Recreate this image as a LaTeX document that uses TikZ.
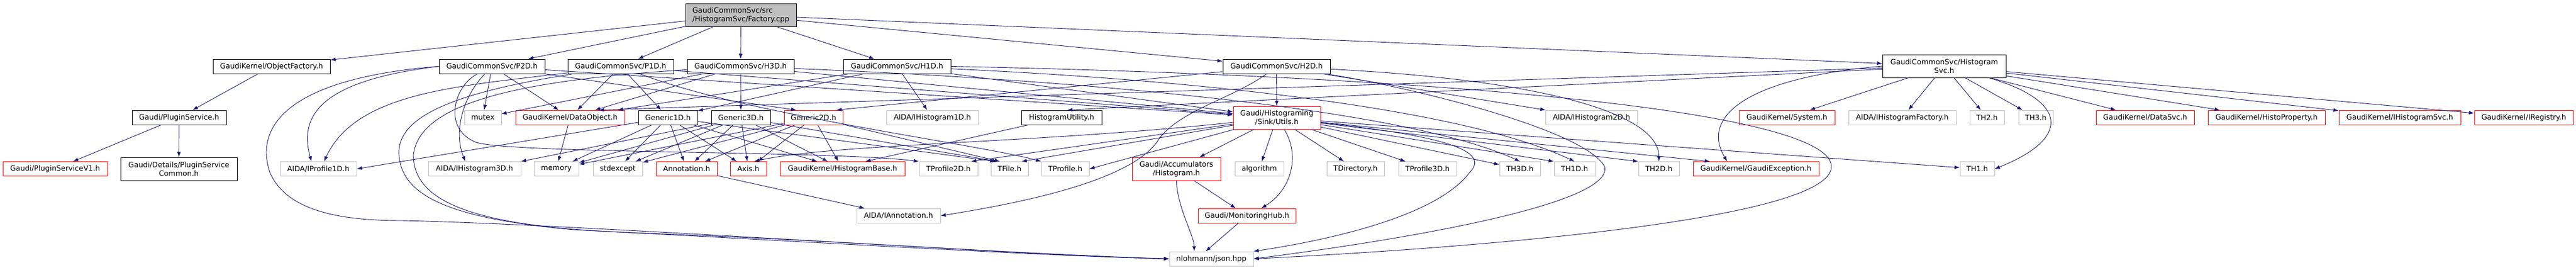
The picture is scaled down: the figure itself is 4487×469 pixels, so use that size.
\documentclass[tikz,border=0pt]{standalone}
\usepackage{fontspec}
\setmainfont{DejaVu Sans}
\usetikzlibrary{arrows.meta}
\definecolor{edgeblue}{HTML}{191970}
\definecolor{grayline}{HTML}{BFBFBF}
\newcommand{\dotfont}{\fontsize{12.7}{15}\selectfont}
\tikzset{
  inc/.style={draw=black, line width=1pt, inner sep=0pt, minimum height=25pt, font=\dotfont},
  incred/.style={inc, draw=red},
  incsys/.style={inc, draw=grayline},
  dep/.style={edgeblue, line width=0.9pt, -{Latex[length=9pt,width=6.5pt]}}
}
\begin{document}
\begin{tikzpicture}[x=1pt,y=-1pt]
\useasboundingbox (0,0) rectangle (4487,469);

% top file and its direct includes
\node[inc, fill=grayline, minimum width=193pt, minimum height=40pt, align=left] (main) at (1290.5,26) {GaudiCommonSvc/src\\/HistogramSvc/Factory.cpp};
\node[inc, minimum width=204pt] (objfac) at (473,115.5) {GaudiKernel/ObjectFactory.h};
\node[inc, minimum width=184pt] (p2d) at (857,115.5) {GaudiCommonSvc/P2D.h};
\node[inc, minimum width=184pt] (p1d) at (1081,115.5) {GaudiCommonSvc/P1D.h};
\node[inc, minimum width=186pt] (h3d) at (1290,115.5) {GaudiCommonSvc/H3D.h};
\node[inc, minimum width=187pt] (h1d) at (1562.5,115.5) {GaudiCommonSvc/H1D.h};
\node[inc, minimum width=187pt] (h2d) at (2223.5,115.5) {GaudiCommonSvc/H2D.h};
\node[inc, minimum width=215pt, minimum height=40pt, align=center] (histsvc) at (3386.5,115) {GaudiCommonSvc/Histogram\\Svc.h};

% second row
\node[inc, minimum width=164pt] (plugsvc) at (312,204.5) {Gaudi/PluginService.h};
\node[incsys, minimum width=64pt] (mutex) at (841,204.5) {mutex};
\node[incred, minimum width=190pt] (dataobj) at (993,204.5) {GaudiKernel/DataObject.h};
\node[inc, minimum width=103pt] (gen1d) at (1163.5,204.5) {Generic1D.h};
\node[inc, minimum width=103pt] (gen3d) at (1290.5,204.5) {Generic3D.h};
\node[incred, minimum width=102pt] (gen2d) at (1417,204.5) {Generic2D.h};
\node[incsys, minimum width=160pt] (ihist1d) at (1624,204.5) {AIDA/IHistogram1D.h};
\node[inc, minimum width=140pt] (histutil) at (1849,204.5) {HistogramUtility.h};
\node[incred, minimum width=152pt, minimum height=40pt, align=center] (utils) at (2224,205) {Gaudi/Histograming\\/Sink/Utils.h};
\node[incsys, minimum width=160pt] (ihist2d) at (2772,204.5) {AIDA/IHistogram2D.h};
\node[incred, minimum width=167pt] (system) at (3112.5,204.5) {GaudiKernel/System.h};
\node[incsys, minimum width=187pt] (ihistfac) at (3313.5,204.5) {AIDA/IHistogramFactory.h};
\node[incsys, minimum width=60pt] (th2) at (3461,204.5) {TH2.h};
\node[incsys, minimum width=60pt] (th3) at (3546,204.5) {TH3.h};
\node[incred, minimum width=171pt] (datasvc) at (3736.5,204.5) {GaudiKernel/DataSvc.h};
\node[incred, minimum width=204pt] (histoprop) at (3948,204.5) {GaudiKernel/HistoProperty.h};
\node[incred, minimum width=212pt] (ihistsvc) at (4180,204.5) {GaudiKernel/IHistogramSvc.h};
\node[incred, minimum width=172pt] (iregistry) at (4396,204.5) {GaudiKernel/IRegistry.h};

% third row
\node[incred, minimum width=182pt] (plugv1) at (96,294) {Gaudi/PluginServiceV1.h};
\node[inc, minimum width=203pt, minimum height=40pt, align=center] (plugcommon) at (311.5,294) {Gaudi/Details/PluginService\\Common.h};
\node[incsys, minimum width=133pt] (iprof1d) at (554.5,294) {AIDA/IProfile1D.h};
\node[incsys, minimum width=161pt] (ihist3d) at (826.5,294) {AIDA/IHistogram3D.h};
\node[incsys, minimum width=78pt] (memory) at (969,294) {memory};
\node[incsys, minimum width=86pt] (stdexcept) at (1076,294) {stdexcept};
\node[incred, minimum width=106pt] (annotation) at (1196,294) {Annotation.h};
\node[incred, minimum width=63pt] (axis) at (1303.5,294) {Axis.h};
\node[incred, minimum width=217pt] (histbase) at (1467.5,294) {GaudiKernel/HistogramBase.h};
\node[incsys, minimum width=102pt] (tprof2d) at (1652,294) {TProfile2D.h};
\node[incsys, minimum width=65pt] (tfile) at (1758.5,294) {TFile.h};
\node[incsys, minimum width=83pt] (tprof) at (1855.5,294) {TProfile.h};
\node[incred, minimum width=154pt, minimum height=40pt, align=center] (accum) at (2049,294) {Gaudi/Accumulators\\/Histogram.h};
\node[incsys, minimum width=85pt] (algorithm) at (2193.5,294) {algorithm};
\node[incsys, minimum width=100pt] (tdir) at (2361,294) {TDirectory.h};
\node[incsys, minimum width=101pt] (tprof3d) at (2486.5,294) {TProfile3D.h};
\node[incsys, minimum width=71pt] (th3d) at (2647.5,294) {TH3D.h};
\node[incsys, minimum width=71pt] (th1d) at (2742.5,294) {TH1D.h};
\node[incsys, minimum width=71pt] (th2d) at (2889.5,294) {TH2D.h};
\node[incred, minimum width=219pt] (gexc) at (3058.5,294) {GaudiKernel/GaudiException.h};
\node[incsys, minimum width=60pt] (th1) at (3444,294) {TH1.h};

% lower rows
\node[incsys, minimum width=146pt] (iannot) at (1565,375.5) {AIDA/IAnnotation.h};
\node[incred, minimum width=170pt] (monhub) at (2172,375.5) {Gaudi/MonitoringHub.h};
\node[incsys, minimum width=146pt] (json) at (2110,450.5) {nlohmann/json.hpp};

% Factory.cpp
\draw[dep] (main) -- (objfac);
\draw[dep] (main) -- (p2d);
\draw[dep] (main) -- (p1d);
\draw[dep] (main) -- (h3d);
\draw[dep] (main) -- (h1d);
\draw[dep] (main) -- (h2d);
\draw[dep] (main) -- (histsvc);

% plugin service
\draw[dep] (objfac) -- (plugsvc);
\draw[dep] (plugsvc) -- (plugv1);
\draw[dep] (plugsvc) -- (plugcommon);

% P2D.h
\draw[dep] (p2d) -- (mutex);
\draw[dep] (p2d) -- (dataobj);
\draw[dep] (p2d) -- ([xshift=-30pt]gen2d.north);
\draw[dep] (p2d) -- (utils);
\draw[dep] (p2d.west) .. controls (560,140) and (520,200) .. ([xshift=-12pt]iprof1d.north);
\draw[dep] (p2d) .. controls (805,170) and (790,230) .. ([xshift=-16pt]ihist3d.north);
\draw[dep] (p2d) .. controls (790,150) and (770,225) .. (830,248) .. controls (900,268) and (1450,262) .. (tprof2d.north west);
\draw[dep] (p2d.west) .. controls (520,135) and (440,210) .. (470,300) .. controls (500,370) and (600,384) .. (700,384) .. controls (1000,390) and (1700,440) .. (json.west);

% P1D.h
\draw[dep] (p1d) -- (dataobj);
\draw[dep] (p1d) -- (gen1d);
\draw[dep] (p1d) -- (utils);
\draw[dep] (p1d) .. controls (1300,200) and (1700,250) .. (tprof.north west);
\draw[dep] (p1d) .. controls (800,150) and (620,160) .. ([xshift=10pt]iprof1d.north);
\draw[dep] (p1d) .. controls (800,160) and (690,200) .. (695,270) .. controls (700,340) and (780,380) .. (1000,400) .. controls (1400,420) and (1800,445) .. (json.west);

% H3D.h
\draw[dep] (h3d) -- (gen3d);
\draw[dep] (h3d) -- (mutex);
\draw[dep] (h3d) -- (dataobj);
\draw[dep] (h3d) -- (utils);
\draw[dep] (h3d) .. controls (1900,140) and (2450,190) .. (th3d.north);
\draw[dep] (h3d) .. controls (900,140) and (730,180) .. (720,270) .. controls (720,360) and (850,395) .. (1100,405) .. controls (1500,420) and (1800,445) .. (json.west);

% H1D.h
\draw[dep] (h1d) -- (gen1d);
\draw[dep] (h1d) -- (ihist1d);
\draw[dep] (h1d) -- (dataobj);
\draw[dep] (h1d) -- (utils);
\draw[dep] (h1d) .. controls (2100,140) and (2550,190) .. (th1d.north);
\draw[dep] (h1d.east) .. controls (2600,135) and (3190,200) .. (3190,290) .. controls (3190,380) and (2600,430) .. (json.east);

% H2D.h
\draw[dep] (h2d) -- (utils);
\draw[dep] (h2d) -- ([xshift=40pt]gen2d.north);
\draw[dep] (h2d) -- (ihist2d);
\draw[dep] (h2d) .. controls (2700,140) and (2890,200) .. (th2d.north);
\draw[dep] (h2d) .. controls (2450,150) and (2760,225) .. (2795,290) .. controls (2810,350) and (2500,410) .. (json.east);
\draw[dep] (h2d) .. controls (2150,170) and (2060,190) .. (2020,240) .. controls (1980,310) and (1800,350) .. (iannot.east);

% HistogramSvc.h
\draw[dep] (histsvc) -- ([xshift=50pt]dataobj.north);
\draw[dep] (histsvc) -- ([xshift=10pt]histutil.north);
\draw[dep] (histsvc) -- (system);
\draw[dep] (histsvc) -- (ihistfac);
\draw[dep] (histsvc) -- (th2);
\draw[dep] (histsvc) -- (th3);
\draw[dep] (histsvc) -- (datasvc);
\draw[dep] (histsvc) -- (histoprop);
\draw[dep] (histsvc) -- (ihistsvc);
\draw[dep] (histsvc) -- (iregistry);
\draw[dep] ([xshift=-30pt]histsvc.south east) .. controls (3600,175) and (3610,240) .. (th1.east);
\draw[dep] (histsvc.west) .. controls (3050,135) and (2960,200) .. ([xshift=-50pt]gexc.north);

% Generic*.h
\draw[dep] (gen1d) -- (iprof1d.east);
\draw[dep] (gen1d) -- (memory);
\draw[dep] (gen1d) -- (stdexcept);
\draw[dep] (gen1d) -- (annotation);
\draw[dep] (gen1d) -- (axis);
\draw[dep] (gen1d) -- (histbase);
\draw[dep] (gen1d) -- ([xshift=8pt]tfile.north west);
\draw[dep] (gen3d) -- (ihist3d.north east);
\draw[dep] (gen3d) -- (memory);
\draw[dep] (gen3d) -- (stdexcept);
\draw[dep] (gen3d) -- (annotation);
\draw[dep] (gen3d) -- (axis);
\draw[dep] (gen3d) -- (histbase);
\draw[dep] (gen3d) -- ([xshift=12pt]tfile.north west);
\draw[dep] (gen2d) -- (memory);
\draw[dep] (gen2d) -- (stdexcept);
\draw[dep] (gen2d) -- (annotation);
\draw[dep] (gen2d) -- (axis);
\draw[dep] (gen2d) -- (histbase);
\draw[dep] (gen2d) -- ([xshift=16pt]tfile.north west);
\draw[dep] (dataobj) -- (memory);
\draw[dep] (histutil) -- ([xshift=40pt]histbase.north);
\draw[dep] (annotation) -- (iannot);

% Sink/Utils.h
\draw[dep] (utils) -- (accum);
\draw[dep] (utils) -- (algorithm);
\draw[dep] (utils) -- (tdir);
\draw[dep] (utils) -- (tprof3d);
\draw[dep] (utils) -- (th3d);
\draw[dep] (utils) -- (th1d.north west);
\draw[dep] (utils) -- (th2d.north west);
\draw[dep] (utils) -- ([xshift=30pt]gexc.north west);
\draw[dep] (utils) -- (th1);
\draw[dep] (utils) -- ([xshift=-12pt]tprof2d.north east);
\draw[dep] (utils) -- ([xshift=-12pt]tfile.north east);
\draw[dep] (utils) -- (tprof.east);
\draw[dep] (utils) .. controls (1800,250) and (1450,250) .. ([xshift=10pt]axis.north);
\draw[dep] (utils) .. controls (2265,270) and (2250,330) .. ([xshift=25pt]monhub.north);
\draw[dep] (utils) .. controls (2500,235) and (2600,260) .. (2560,300) .. controls (2500,380) and (2300,420) .. (json.north east);

% accumulators and hub
\draw[dep] (accum) -- (monhub);
\draw[dep] (accum) .. controls (2050,360) and (2080,410) .. ([xshift=-30pt]json.north);
\draw[dep] (monhub) -- ([xshift=-10pt]json.north);
\end{tikzpicture}
\end{document}
